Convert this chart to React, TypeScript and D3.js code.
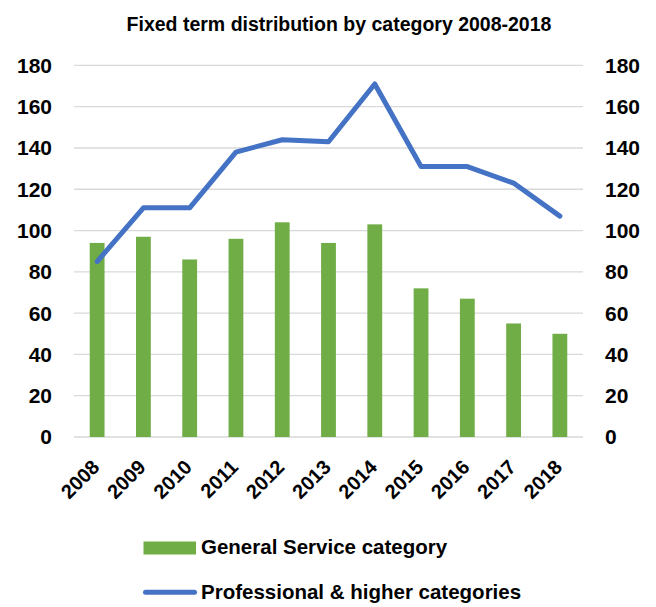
import React from "react";
import * as d3 from "d3";

const years = ["2008","2009","2010","2011","2012","2013","2014","2015","2016","2017","2018"];
const generalService = [94, 97, 86, 96, 104, 94, 103, 72, 67, 55, 50];
const professional = [85, 111, 111, 138, 144, 143, 171, 131, 131, 123, 107];
const yTicks = [0, 20, 40, 60, 80, 100, 120, 140, 160, 180];
const title = "Fixed term distribution by category 2008-2018";
const legendLabels = ["General Service category", "Professional & higher categories"];

const W = 656, H = 607;
const left = 74, right = 583, top = 65.4, bottom = 437;
const FONT = "'Liberation Sans', Arial, sans-serif";
const GREEN = "#70AD47";
const BLUE = "#4472C4";

export default function App() {
  const x = d3.scaleBand<string>().domain(years).range([left, right]).paddingInner(0).paddingOuter(0);
  const y = d3.scaleLinear().domain([0, 180]).range([bottom, top]);
  const bw = x.bandwidth() * 0.32;
  const line = d3.line<number>()
    .x((_, i) => (x(years[i]) as number) + x.bandwidth() / 2)
    .y((d) => y(d));

  return (
    <svg width={W} height={H} style={{ position: "absolute", left: 0, top: 0, background: "#fff" }}>
      <text x={339} y={31} textAnchor="middle" fontFamily={FONT} fontWeight="bold" fontSize={19.5} fill="#000">{title}</text>
      {yTicks.map((t) => (
        <g key={t}>
          <line x1={left} x2={right} y1={y(t)} y2={y(t)} stroke="#d9d9d9" strokeWidth={1.3} />
          <text x={52} y={y(t) + 7.4} textAnchor="end" fontFamily={FONT} fontWeight="bold" fontSize={21} fill="#000">{t}</text>
          <text x={605} y={y(t) + 7.4} textAnchor="start" fontFamily={FONT} fontWeight="bold" fontSize={21} fill="#000">{t}</text>
        </g>
      ))}
      {generalService.map((v, i) => {
        const cx = (x(years[i]) as number) + x.bandwidth() / 2;
        return <rect key={years[i]} x={cx - bw / 2} y={y(v)} width={bw} height={y(0) - y(v)} fill={GREEN} />;
      })}
      <path d={line(professional) || ""} fill="none" stroke={BLUE} strokeWidth={5} strokeLinecap="round" strokeLinejoin="round" />
      {years.map((yr) => {
        const cx = (x(yr) as number) + x.bandwidth() / 2;
        return (
          <text key={yr} transform={`translate(${cx + 3.5},${bottom + 31.5}) rotate(-45)`} textAnchor="end"
            fontFamily={FONT} fontWeight="bold" fontSize={20} fill="#000">{yr}</text>
        );
      })}
      <rect x={143.5} y={541.5} width={52.5} height={13} fill={GREEN} />
      <text x={201} y={553.5} fontFamily={FONT} fontWeight="bold" fontSize={20.5} fill="#000">{legendLabels[0]}</text>
      <line x1={145.5} x2={194.5} y1={592.3} y2={592.3} stroke={BLUE} strokeWidth={5} strokeLinecap="round" />
      <text x={201} y={598.5} fontFamily={FONT} fontWeight="bold" fontSize={20.5} fill="#000">{legendLabels[1]}</text>
    </svg>
  );
}
